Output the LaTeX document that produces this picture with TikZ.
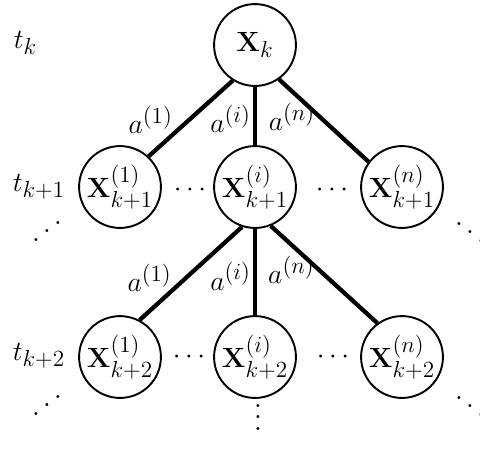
\documentclass[tikz,border=0pt]{standalone}
\usepackage{graphicx}
\DeclareMathSizes{14.4}{14.4}{12}{10}
\begin{document}
\begin{tikzpicture}[x=0.0182cm, y=-0.0182cm, every node/.style={font=\Large},
  state/.style={circle, draw, line width=1pt, minimum size=1.49cm, inner sep=0pt},
  branch/.style={line width=2.2pt},
  act/.style={inner sep=1pt, anchor=east},
  dotsty/.style={inner sep=0pt, scale=1.45, font=\normalsize, anchor=base}]
\useasboundingbox (0,0) rectangle (480,452);
% time steps
\node[anchor=west] (tk) at (7,43) {$t_k$};
\node[anchor=west] (tk1) at (6,187) {$t_{k+1}$};
\node[anchor=west] (tk2) at (6,356) {$t_{k+2}$};
% states
\node[state] (root) at (255,45) {$\mathbf{X}_k$};
\node[state] (c1) at (120,187) {$\mathbf{X}^{(1)}_{k+1}$};
\node[state] (ci) at (255,187) {$\mathbf{X}^{(i)}_{k+1}$};
\node[state] (cn) at (402,187) {$\mathbf{X}^{(n)}_{k+1}$};
\node[state] (g1) at (120,357) {$\mathbf{X}^{(1)}_{k+2}$};
\node[state] (gi) at (255,357) {$\mathbf{X}^{(i)}_{k+2}$};
\node[state] (gn) at (402,357) {$\mathbf{X}^{(n)}_{k+2}$};
% dots
\node (h1) at (190,190) {$\cdots$};
\node (h2) at (332,190) {$\cdots$};
\node (h3) at (189,357) {$\cdots$};
\node (h4) at (333,357) {$\cdots$};
\node[dotsty] (d1) at (47,244) {\reflectbox{$\ddots$}};
\node[dotsty] (d2) at (470,245) {$\ddots$};
\node[dotsty] (d3) at (47,418) {\reflectbox{$\ddots$}};
\node[dotsty] (d4) at (258,430) {$\vdots$};
\node[dotsty] (d5) at (470,419) {$\ddots$};
% actions
\draw[branch] (root.238) -- (c1.47) node[act, pos=.52, xshift=-0.22cm] {$a^{(1)}$};
\draw[branch] (root.south) -- (ci.north) node[act, pos=.55] {$a^{(i)}$};
\draw[branch] (root.305) -- (cn.143) node[act, pos=.45] {$a^{(n)}$};
\draw[branch] (ci.252) -- (g1.62) node[act, pos=.55, xshift=-0.18cm] {$a^{(1)}$};
\draw[branch] (ci.south) -- (gi.north) node[act, pos=.55] {$a^{(i)}$};
\draw[branch] (ci.292) -- (gn.126) node[act, pos=.45] {$a^{(n)}$};
\end{tikzpicture}
\end{document}
